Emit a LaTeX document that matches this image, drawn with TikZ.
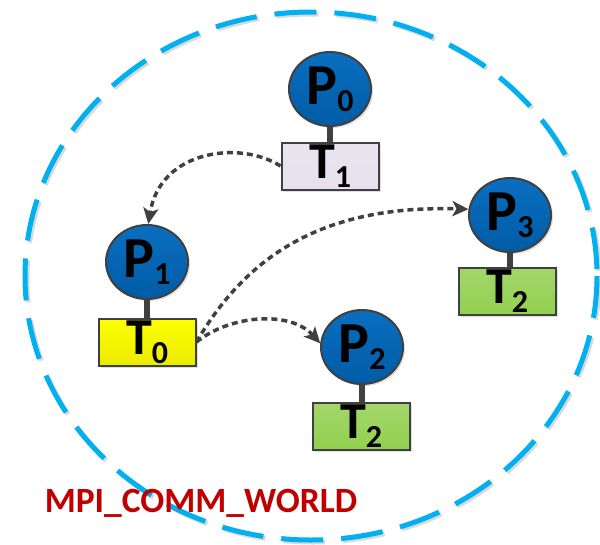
\documentclass[tikz,border=0pt]{standalone}
\usepackage{fontspec}
\setmainfont{Carlito}
\usetikzlibrary{arrows.meta,shapes.geometric,shadows}

\definecolor{procblue}{HTML}{0A6EC0}
\definecolor{procdark}{HTML}{005CA6}
\definecolor{rim}{HTML}{404040}
\definecolor{lilac}{HTML}{E4DFEC}
\definecolor{lemon}{HTML}{FFFF00}
\definecolor{leaf}{HTML}{92D050}
\definecolor{sky}{HTML}{00B0F0}
\definecolor{commred}{HTML}{C00000}

% subscript index, lowered below the baseline
\newcommand{\ix}[2][7]{\lower#1pt\hbox{\fontsize{32}{32}\selectfont#2}}

\begin{document}
\begin{tikzpicture}[x=1pt,y=-1pt,
    proc/.style={ellipse,draw=rim,line width=2pt,top color=procblue,
      bottom color=procdark,minimum width=82pt,minimum height=74pt,inner sep=0pt,
      font=\fontsize{58}{58}\selectfont\bfseries,
      drop shadow={shadow xshift=2pt,shadow yshift=-2pt,opacity=0.25}},
    task/.style={rectangle,draw=rim,line width=2pt,minimum width=97pt,
      minimum height=47pt,inner sep=0pt,font=\fontsize{52}{52}\selectfont\bfseries,
      drop shadow={shadow xshift=2pt,shadow yshift=-2pt,opacity=0.25}},
    stem/.style={draw=rim,line width=6pt},
    msg/.style={draw=rim,line width=3.5pt,dash pattern=on 6pt off 4pt,
      -{Stealth[length=16pt,width=15pt,inset=4pt]}},
    world/.style={line width=5pt,dash pattern=on 42pt off 18pt},
   ]
   \useasboundingbox (0,0) rectangle (600,544);
   \draw[world,draw=black,opacity=0.15] (313,278) ellipse[x radius=286,y radius=264];
   \draw[world,draw=sky] (311,276) ellipse[x radius=286,y radius=264];

   % processes and the task each one runs
   \node[proc] (p0) at (330,89)  {P\ix{0}};
   \node[proc] (p1) at (147,262) {P\ix{1}};
   \node[proc] (p2) at (362,347) {P\ix{2}};
   \node[proc] (p3) at (510,215) {P\ix{3}};
   \node[task,top color=lilac!80,bottom color=lilac!100!black!95] (t1) at (330,166) {T\ix[9]{1}};
   \node[task,top color=lemon,bottom color=lemon!92!black] (t0) at (147,342) {T\ix[9]{0}};
   \node[task,top color=leaf!85,bottom color=leaf] (t2a) at (361,426) {T\ix[9]{2}};
   \node[task,top color=leaf!85,bottom color=leaf] (t2b) at (507,291) {T\ix[9]{2}};
   \path[stem] (p0.south) -- (p0.south |- t1.north) (p1.south) -- (p1.south |- t0.north)
     (p2.south) -- (p2.south |- t2a.north) (p3.south) -- (p3.south |- t2b.north);

   % messages between tasks
   \draw[msg] (t1.west) .. controls (240,140) and (160,150) .. (p1.88);
   \draw[msg] (t0.east) .. controls (250,250) and (330,205) .. (p3.172);
   \draw[msg] (t0.east) .. controls (230,315) and (290,310) .. (p2.175);

   \node[text=commred,font=\fontsize{35.5}{36}\selectfont\bfseries] (comm)
     at (201,503) {MPI\_COMM\_WORLD};
\end{tikzpicture}
\end{document}
